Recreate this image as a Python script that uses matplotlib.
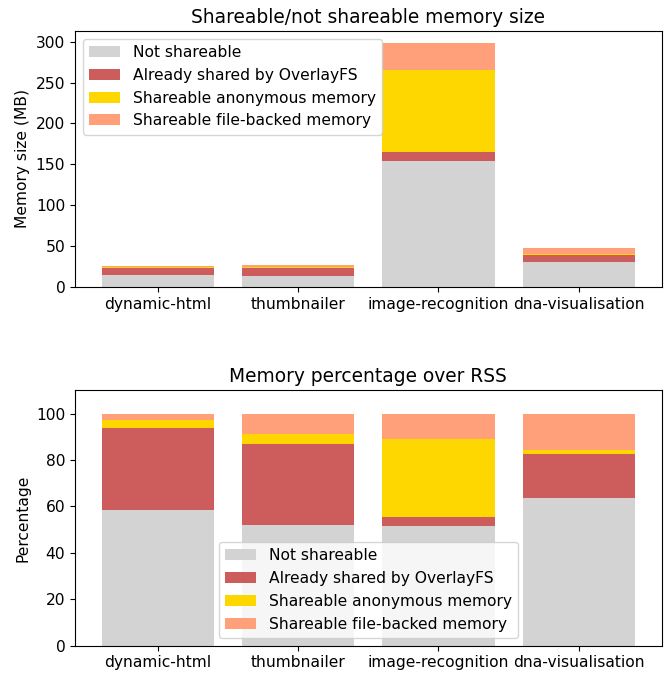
import matplotlib
matplotlib.use("Agg")
import matplotlib.pyplot as plt
import numpy as np

apps = ["dynamic-html", "thumbnailer", "image-recognition", "dna-visualisation"]
not_shareable = [14.8, 13.8, 153.8, 30.3]
overlay_shared = [8.9, 9.2, 10.7, 8.9]
shareable_anon = [0.86, 1.2, 100.3, 0.95]
shareable_file = [0.76, 2.3, 33.3, 7.4]

labels = ["Not shareable", "Already shared by OverlayFS",
          "Shareable anonymous memory", "Shareable file-backed memory"]
colors = ["lightgray", "indianred", "gold", "lightsalmon"]

series = [np.array(s, dtype=float) for s in
          [not_shareable, overlay_shared, shareable_anon, shareable_file]]
total = sum(series)
pct = [s / total * 100 for s in series]

fs = 11.2
plt.rcParams['font.size'] = fs
fig = plt.figure(figsize=(6.65, 6.75), dpi=100)
ax1 = fig.add_axes([75/665, 1-287/675, 586.5/665, 256/675])
ax2 = fig.add_axes([75/665, 1-645.5/675, 586.5/665, 255.2/675])

x = np.arange(len(apps))
for ax, data in [(ax1, series), (ax2, pct)]:
    bottom = np.zeros(len(apps))
    for s, lab, c in zip(data, labels, colors):
        ax.bar(x, s, 0.8, bottom=bottom, color=c, label=lab)
        bottom += s
    ax.set_xticks(x)
    ax.set_xticklabels(apps, fontsize=fs)
    ax.tick_params(labelsize=fs)

ax1.set_ylim(0, 313)
ax1.set_yticks([0, 50, 100, 150, 200, 250, 300])
ax1.set_title("Shareable/not shareable memory size", fontsize=13.4)
ax1.set_ylabel("Memory size (MB)", fontsize=fs)
ax1.legend(loc="upper left", fontsize=fs)

ax2.set_ylim(0, 110)
ax2.set_yticks([0, 20, 40, 60, 80, 100])
ax2.set_title("Memory percentage over RSS", fontsize=13.4)
ax2.set_ylabel("Percentage", fontsize=fs)
ax2.legend(loc="lower center", fontsize=fs)

fig.savefig("out.png", dpi=100)
